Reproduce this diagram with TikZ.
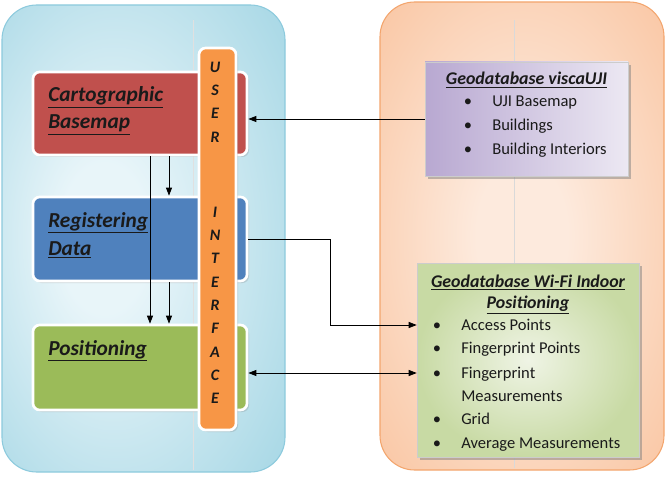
\documentclass[tikz,border=0pt]{standalone}
\usepackage{fontspec}
\setmainfont{Carlito}
\usetikzlibrary{arrows.meta,shadows}
\definecolor{cartored}{HTML}{C0504D}
\definecolor{regblue}{HTML}{4F81BD}
\definecolor{posgreen}{HTML}{9BBB59}
\definecolor{uiorange}{HTML}{F79646}
\definecolor{bluein}{HTML}{E8F5F9}
\definecolor{blueout}{HTML}{A6D7E5}
\definecolor{blueline}{HTML}{8CCADD}
\definecolor{peachin}{HTML}{FDEADD}
\definecolor{peachout}{HTML}{F8BC93}
\definecolor{peachline}{HTML}{F3A56D}
\definecolor{lavin}{HTML}{ECE8F3}
\definecolor{lavout}{HTML}{B8A8D1}
\definecolor{grnin}{HTML}{EFF4E5}
\definecolor{grnout}{HTML}{C8DAA4}
\definecolor{txt}{HTML}{1A1A1A}
\pgfdeclareradialshading{softblue}{\pgfpoint{-8bp}{0bp}}{color(0bp)=(bluein); color(8bp)=(bluein); color(38bp)=(blueout); color(60bp)=(blueout)}
\pgfdeclareradialshading{softpeach}{\pgfpoint{0bp}{0bp}}{color(0bp)=(peachin); color(8bp)=(peachin); color(44bp)=(peachout); color(60bp)=(peachout)}
\begin{document}
\begin{tikzpicture}[x=0.75pt,y=-0.75pt,
  panel/.style={rounded corners=26pt, line width=0.8pt},
  box/.style={draw=white, line width=2pt, rounded corners=5pt, inner sep=0pt,
    drop shadow={opacity=0.25, shadow xshift=1.5pt, shadow yshift=-1.5pt}},
  dbbox/.style={inner sep=0pt, draw=white!60!gray, line width=0.4pt,
    drop shadow={opacity=0.5, shadow xshift=2pt, shadow yshift=-2pt}},
  lbl/.style={font=\fontsize{16}{19}\selectfont\bfseries\itshape, anchor=base west, inner sep=0pt, text=txt},
  item/.style={font=\fontsize{12.4}{14}\selectfont, anchor=base west, inner sep=0pt, text=txt},
  ttl/.style={font=\fontsize{13.4}{15}\selectfont\bfseries\itshape, anchor=base, inner sep=0pt, text=txt},
  bul/.style={font=\fontsize{12.4}{14}\selectfont, anchor=base, inner sep=0pt, text=txt},
  uil/.style={font=\fontsize{12}{14}\selectfont\bfseries\itshape, inner sep=0pt, text=txt},
  arr/.style={-{Triangle[length=6pt,width=4.5pt]}, line width=0.6pt},
  darr/.style={{Triangle[length=6pt,width=4.5pt]}-{Triangle[length=6pt,width=4.5pt]}, line width=0.6pt}]
\useasboundingbox (0,0) rectangle (666,477);
% panels
\path[panel, draw=blueline, shading=softblue] (2,5) rectangle (285,472);
\path[panel, draw=peachline, shading=softpeach] (380,2) rectangle (664,470);
\draw[black!12, line width=0.4pt] (193,20) -- (193,470);
\draw[black!15, line width=0.4pt] (514,20) -- (514,468);
% left boxes
\node[box, fill=cartored, minimum width=160.5pt, minimum height=62.25pt] (carto) at (140,113.5) {};
\node[box, fill=regblue, minimum width=160.5pt, minimum height=63pt] (reg) at (140,239) {};
\node[box, fill=posgreen, minimum width=160.5pt, minimum height=63.75pt] (pos) at (140,367.5) {};
\node[lbl] (cartoA) at (48,102) {\underline{Cartographic}};
\node[lbl] (cartoB) at (48,129) {\underline{Basemap}};
\node[lbl] (regA) at (48,227) {\underline{Registering}};
\node[lbl] (regB) at (48,255) {\underline{Data}};
\node[lbl] (posA) at (48,355) {\underline{Positioning}};
% user interface bar
\node[box, fill=uiorange, minimum width=27.75pt, minimum height=286.5pt] (ui) at (217.5,239) {};
\foreach \l/\y [count=\i] in {U/67,S/90,E/113,R/137,I/212,N/235,T/258,E/282,R/305,F/328,A/352,C/375,E/398}
  \node[uil] (uil\i) at (215,\y) {\l};
% database boxes
\node[dbbox, left color=lavout, right color=lavin, minimum width=152.25pt, minimum height=85.5pt] (visca) at (526.5,119) {};
\node[dbbox, inner color=grnin, outer color=grnout, minimum width=166.5pt, minimum height=145.5pt] (wifi) at (528,360) {};
\node[ttl] (viscaT) at (526.5,85) {\underline{Geodatabase viscaUJI}};
\foreach \t/\y [count=\i] in {UJI Basemap/107,Buildings/131,Building Interiors/155}{
  \node[bul] (vb\i) at (468,\y) {\textbullet};
  \node[item] (vi\i) at (492,\y) {\t};
}
\node[ttl] (wifiT1) at (528,287) {\underline{Geodatabase Wi-Fi Indoor}};
\node[ttl] (wifiT2) at (528,308) {\underline{Positioning}};
\foreach \t/\y [count=\i] in {Access Points/330,Fingerprint Points/353,Fingerprint/378,Grid/424,Average Measurements/448}{
  \node[bul] (wb\i) at (437,\y) {\textbullet};
  \node[item] (wi\i) at (461,\y) {\t};
}
\node[item] (wi6) at (461,401) {Measurements};
% connectors
\coordinate (x1) at (150,0);
\coordinate (x2) at (169,0);
\coordinate (kink) at (330,325);
\coordinate (fpy) at (0,373);
\draw[arr] (carto.south -| x1) -- (pos.north -| x1);
\draw[arr] (carto.south -| x2) -- (reg.north -| x2);
\draw[arr] (reg.south -| x2) -- (pos.north -| x2);
\draw[arr] (visca.west) -- (visca.west -| carto.east);
\draw[arr] (reg.east) -| (kink) -- (kink -| wifi.west);
\draw[darr] (pos.east |- fpy) -- (wifi.west |- fpy);
\end{tikzpicture}
\end{document}
